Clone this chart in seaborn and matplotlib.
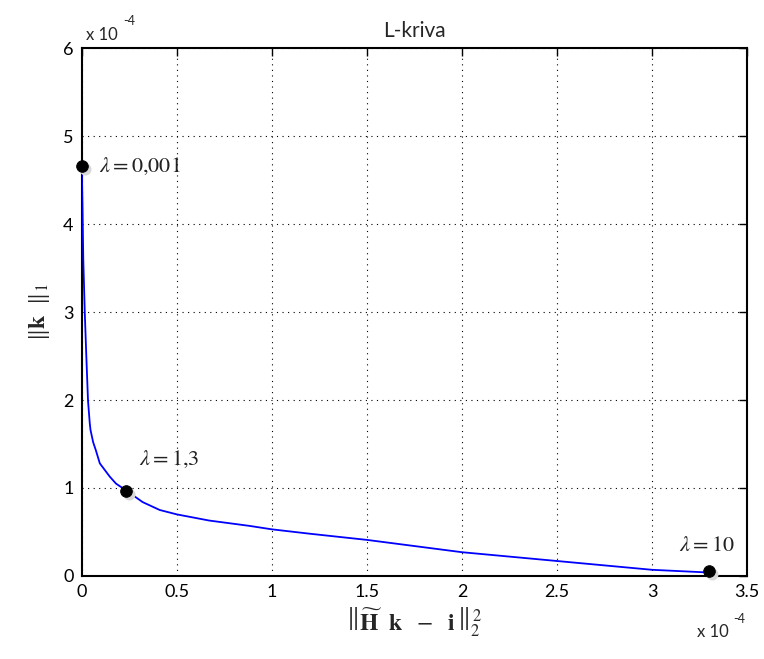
import numpy as np
import matplotlib
matplotlib.use("Agg")
import matplotlib.pyplot as plt
import matplotlib.transforms as mtransforms
import seaborn as sns

# L-curve values (both axes in units of 1e-4)
residual_norm = [0.0, 0.004, 0.008, 0.016, 0.024, 0.033, 0.042, 0.046, 0.06, 0.074,
                 0.095, 0.147, 0.18, 0.235, 0.32, 0.41, 0.5, 0.67, 0.88, 1.0,
                 1.2, 1.5, 2.0, 2.2, 2.5, 3.0, 3.29]
solution_norm = [4.66, 4.2, 3.6, 2.99, 2.5, 1.99, 1.74, 1.66, 1.52, 1.43,
                 1.28, 1.13, 1.05, 0.97, 0.84, 0.75, 0.70, 0.63, 0.57, 0.53,
                 0.48, 0.41, 0.27, 0.23, 0.17, 0.07, 0.04]

# marked regularisation parameters
lambda_labels = [r"$\lambda = 0{,}001$", r"$\lambda = 1{,}3$", r"$\lambda = 10$"]
lambda_x = [0.0, 0.235, 3.30]
lambda_y = [4.66, 0.97, 0.06]
label_x = [0.09, 0.30, 3.14]
label_y = [4.66, 1.32, 0.35]

x_ticks = [0, 0.5, 1, 1.5, 2, 2.5, 3, 3.5]
x_tick_labels = ["0", "0.5", "1", "1.5", "2", "2.5", "3", "3.5"]
y_ticks = [0, 1, 2, 3, 4, 5, 6]

sns.set_style("white")
plt.rcParams["font.family"] = ["Lato", "DejaVu Sans"]
plt.rcParams["mathtext.fontset"] = "stix"

fig = plt.figure(figsize=(7.64, 6.59), dpi=100)
ax = fig.add_axes([0.107, 0.126, 0.871, 0.801])

sns.lineplot(x=residual_norm, y=solution_norm, sort=False, color="#0000ff",
             linewidth=1.3, ax=ax, zorder=3)

shadow = mtransforms.offset_copy(ax.transData, fig=fig, x=3, y=-3, units="dots")
ax.scatter(lambda_x, lambda_y, s=75, color="#d8d8d8", transform=shadow,
           zorder=4, clip_on=False, linewidths=0)
sns.scatterplot(x=lambda_x, y=lambda_y, s=70, color="black", edgecolor="black",
                ax=ax, zorder=5, clip_on=False)

for txt, tx, ty in zip(lambda_labels, label_x, label_y):
    ax.text(tx, ty, txt, fontsize=16, va="center", ha="left", color="#222222")

ax.set_xlim(0, 3.5)
ax.set_ylim(0, 6)
ax.set_xticks(x_ticks)
ax.set_xticklabels(x_tick_labels)
ax.set_yticks(y_ticks)
ax.grid(True, linestyle=(0, (1, 4)), color="black", linewidth=0.8)
ax.tick_params(direction="in", length=6, width=1, top=True, right=True,
               labelsize=13, pad=6, colors="black")
for sp in ax.spines.values():
    sp.set_visible(True)
    sp.set_linewidth(1.5)
    sp.set_color("black")

ax.set_title("L-kriva", fontsize=15, pad=8)
ax.set_xlabel(r"$\left\|\widetilde{\mathbf{H}}\ \ \mathbf{k}\ \ -\ \ \mathbf{i}\,\right\|_2^{\,2}$",
              fontsize=17, labelpad=4)
ax.set_ylabel(r"$\|\mathbf{k}\ \ \|_1$", fontsize=17, labelpad=8)

# offset ("x 10^-4") labels as in the MATLAB figure
fig.text(0.113, 0.94, "x 10", fontsize=12)
fig.text(0.161, 0.962, "-4", fontsize=9)
fig.text(0.912, 0.033, "x 10", fontsize=12)
fig.text(0.960, 0.055, "-4", fontsize=9)

fig.savefig("out.png", dpi=100)
